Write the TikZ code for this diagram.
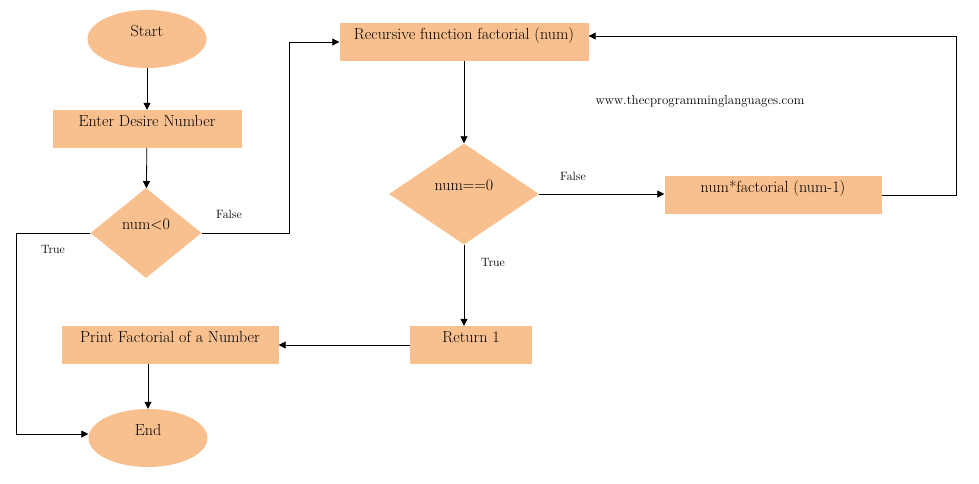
\documentclass[tikz,border=0pt]{standalone}
\usepackage{fontspec}
\usetikzlibrary{shapes.geometric,arrows.meta,positioning}

\definecolor{peach}{RGB}{249,192,143}

\tikzset{
    block/.style={rectangle, fill=peach, inner sep=0pt, font=\fontsize{16}{18}\selectfont,
        text height=10pt, text depth=16pt},
    term/.style={ellipse, fill=peach, inner sep=0pt, font=\fontsize{16}{18}\selectfont,
        minimum width=119pt, minimum height=58pt, text height=10pt, text depth=16pt},
    decide/.style={diamond, fill=peach, inner sep=0pt, font=\fontsize{16}{18}\selectfont,
        text height=10pt, text depth=18pt},
    tag/.style={font=\fontsize{12}{14}\selectfont, inner sep=0pt},
    link/.style={line width=0.8pt, -{Triangle[length=7pt,width=7pt]}},
    wire/.style={line width=0.8pt}
}

\begin{document}
\begin{tikzpicture}[x=1pt, y=-1pt]
    \useasboundingbox (0,0) rectangle (979,483);

    % left column
    \node[term] (start) at (147,39) {Start};
    \node[block, minimum width=189pt, minimum height=38pt] (enter) at (147,129) {Enter Desire Number};
    \node[decide, minimum width=111pt, minimum height=90pt] (neg) at (146,233) {num<0};
    \node[block, minimum width=217pt, minimum height=38pt] (print) at (170,345) {Print Factorial of a Number};
    \node[term] (end) at (148,438) {End};

    % recursion
    \node[block, minimum width=249pt, minimum height=38pt] (rec) at (464,42) {Recursive function factorial (num)};
    \node[decide, minimum width=150pt, minimum height=101pt] (zero) at (464,194) {num==0};
    \node[block, minimum width=217pt, minimum height=38pt] (mult) at (773,195) {num*factorial (num-1)};
    \node[block, minimum width=122pt, minimum height=38pt] (ret) at (471,345) {Return 1};

    \node[font=\fontsize{13}{15}\selectfont, inner sep=0pt] (url) at (700,101) {www.thecprogramminglanguages.com};

    % bends
    \coordinate (negturn) at (289,0);
    \coordinate (trueturn) at (16,0);
    \coordinate (loopturn) at (956,0);

    \draw[link] (start) -- (enter);
    \draw[link] (enter) -- (neg);
    \draw[link] (neg.east) -- (neg.east -| negturn) |- (rec.west);
    \draw[link] (neg.west) -- (neg.west -| trueturn) |- ([yshift=4pt]end.west);
    \draw[link] (rec) -- (zero);
    \draw[link] (zero.east) -- (zero.east -| mult.west);
    \draw[link] (mult.east) -- (mult.east -| loopturn) |- ([yshift=6pt]rec.east);
    \draw[link] (zero.south) -- (zero.south |- ret.north);
    \draw[link] (ret) -- (print);
    \draw[link] (print.south -| end) -- (end);

    % branch labels
    \node[tag] (negno) at (229,214) {False};
    \node[tag] (negyes) at (53,249) {True};
    \node[tag] (zerono) at (573,176) {False};
    \node[tag] (zeroyes) at (493,262) {True};
\end{tikzpicture}
\end{document}
